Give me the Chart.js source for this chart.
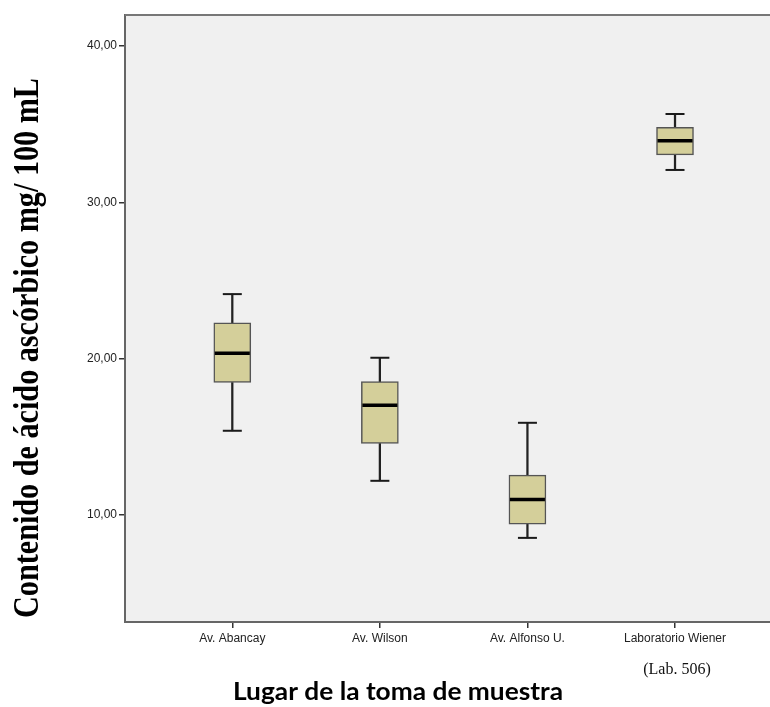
<!DOCTYPE html>
<html>
<head>
<meta charset="utf-8">
<script src="https://cdn.jsdelivr.net/npm/chart.js@4/dist/chart.umd.min.js"></script>
<style>
  html, body { margin: 0; padding: 0; background: #ffffff; }
  canvas { display: block; }
</style>
</head>
<body>
<canvas id="c" width="770" height="707"></canvas>
<script>
// ---- data ----
const categories = ['Av. Abancay', 'Av. Wilson', 'Av. Alfonso U.', 'Laboratorio Wiener'];
const minVals    = [15.39, 12.19,  8.54, 32.07];
const q1Vals     = [18.48, 14.58,  9.42, 33.03];
const medianVals = [20.34, 17.02, 10.99, 33.94];
const q3Vals     = [22.30, 18.53, 12.55, 34.80];
const maxVals    = [24.13, 20.06, 15.90, 35.65];
const yTickValues = [10, 20, 30, 40];

const yTitle = 'Contenido de ácido ascórbico mg/ 100 mL';
const xTitle = 'Lugar de la toma de muestra';
const xNote  = '(Lab. 506)';

// ---- build datasets from the arrays ----
const pos = categories.map((c, i) => i + 1);
const boxData   = pos.map((x, i) => ({ x, y: [q1Vals[i], q3Vals[i]] }));
const upperData = pos.map((x, i) => ({ x, y: [q3Vals[i], maxVals[i]] }));
const lowerData = pos.map((x, i) => ({ x, y: [minVals[i], q1Vals[i]] }));
const maxPts    = pos.map((x, i) => ({ x, y: maxVals[i] }));
const minPts    = pos.map((x, i) => ({ x, y: minVals[i] }));
const medPts    = pos.map((x, i) => ({ x, y: medianVals[i] }));

const fmt = v => Number(v).toFixed(2).replace('.', ',');

function noPad(s) {
  s.paddingLeft = 0; s.paddingRight = 0; s.paddingTop = 0; s.paddingBottom = 0;
}

const framePlugin = {
  id: 'frame',
  beforeDraw(chart) {
    const { ctx, chartArea: a } = chart;
    ctx.save();
    ctx.fillStyle = '#f0f0f0';
    ctx.fillRect(a.left, a.top, a.right - a.left, a.bottom - a.top);
    ctx.restore();
  },
  afterDraw(chart) {
    const { ctx, chartArea: a } = chart;
    ctx.save();
    // top frame line
    ctx.strokeStyle = '#777777';
    ctx.lineWidth = 2;
    ctx.beginPath();
    ctx.moveTo(a.left, a.top);
    ctx.lineTo(a.right, a.top);
    ctx.stroke();

    ctx.fillStyle = '#000000';
    // y title (rotated, bold serif)
    ctx.save();
    ctx.translate(38, 348);
    ctx.rotate(-Math.PI / 2);
    ctx.font = 'bold 36px "Liberation Serif", "Times New Roman", serif';
    ctx.textAlign = 'center';
    ctx.textBaseline = 'alphabetic';
    const wy = ctx.measureText(yTitle).width;
    ctx.scale(540 / wy, 1);
    ctx.fillText(yTitle, 0, 0);
    ctx.restore();

    // x title
    ctx.save();
    ctx.translate(398, 700);
    ctx.font = 'bold 24px Lato, "Liberation Sans", sans-serif';
    ctx.textAlign = 'center';
    ctx.textBaseline = 'alphabetic';
    const wx = ctx.measureText(xTitle).width;
    ctx.scale(330 / wx, 1);
    ctx.fillText(xTitle, 0, 0);
    ctx.restore();

    // note below last category
    const xs = chart.scales.x;
    ctx.font = '16px "Liberation Serif", "Times New Roman", serif';
    ctx.fillStyle = '#111111';
    ctx.textAlign = 'center';
    ctx.textBaseline = 'alphabetic';
    ctx.fillText(xNote, xs.getPixelForValue(pos[pos.length - 1]) + 2, 674);
    ctx.restore();
  }
};

new Chart(document.getElementById('c'), {
  type: 'bar',
  data: {
    datasets: [
      { type: 'scatter', data: medPts, pointStyle: 'line', pointRadius: 17.5, pointHoverRadius: 17.5,
        borderColor: '#000000', borderWidth: 3.5, pointBorderWidth: 3.5, order: 0 },
      { type: 'scatter', data: maxPts, pointStyle: 'line', pointRadius: 9.5, pointHoverRadius: 9.5,
        borderColor: '#1a1a1a', borderWidth: 2, pointBorderWidth: 2, order: 1 },
      { type: 'scatter', data: minPts, pointStyle: 'line', pointRadius: 9.5, pointHoverRadius: 9.5,
        borderColor: '#1a1a1a', borderWidth: 2, pointBorderWidth: 2, order: 1 },
      { data: boxData, backgroundColor: '#d4cf9a', borderColor: '#555555', borderWidth: 1.5,
        borderSkipped: false, barThickness: 37, grouped: false, order: 2 },
      { data: upperData, backgroundColor: '#222222', borderWidth: 0,
        barThickness: 1.6, grouped: false, order: 3 },
      { data: lowerData, backgroundColor: '#222222', borderWidth: 0,
        barThickness: 1.6, grouped: false, order: 3 }
    ]
  },
  options: {
    responsive: false,
    devicePixelRatio: 1,
    animation: false,
    events: [],
    layout: { autoPadding: false, padding: { top: 15, right: 0, bottom: 0, left: 0 } },
    plugins: { legend: { display: false }, tooltip: { enabled: false } },
    scales: {
      x: {
        type: 'linear',
        offset: false,
        min: 0.2729,
        max: 4.6437,
        afterFit: s => { s.height = 85; noPad(s); },
        afterBuildTicks: s => { s.ticks = pos.map(v => ({ value: v })); },
        ticks: {
          callback: v => categories[v - 1] || '',
          font: { family: '"Liberation Sans", Arial, sans-serif', size: 12 },
          color: '#222222',
          padding: 3,
          maxRotation: 0,
          autoSkip: false
        },
        grid: { offset: false, drawOnChartArea: false, drawTicks: true, tickLength: 6, color: '#333333', lineWidth: 1.5 },
        border: { display: true, color: '#666666', width: 2 }
      },
      y: {
        position: 'left',
        min: 3.16,
        max: 41.98,
        afterFit: s => { s.width = 125; noPad(s); },
        afterBuildTicks: s => { s.ticks = yTickValues.map(v => ({ value: v })); },
        ticks: {
          callback: v => fmt(v),
          font: { family: '"Liberation Sans", Arial, sans-serif', size: 12 },
          color: '#222222',
          padding: 2
        },
        grid: { drawOnChartArea: false, drawTicks: true, tickLength: 6, color: '#333333', lineWidth: 1.5 },
        border: { display: true, color: '#666666', width: 2 }
      }
    }
  },
  plugins: [framePlugin]
});
</script>
</body>
</html>
